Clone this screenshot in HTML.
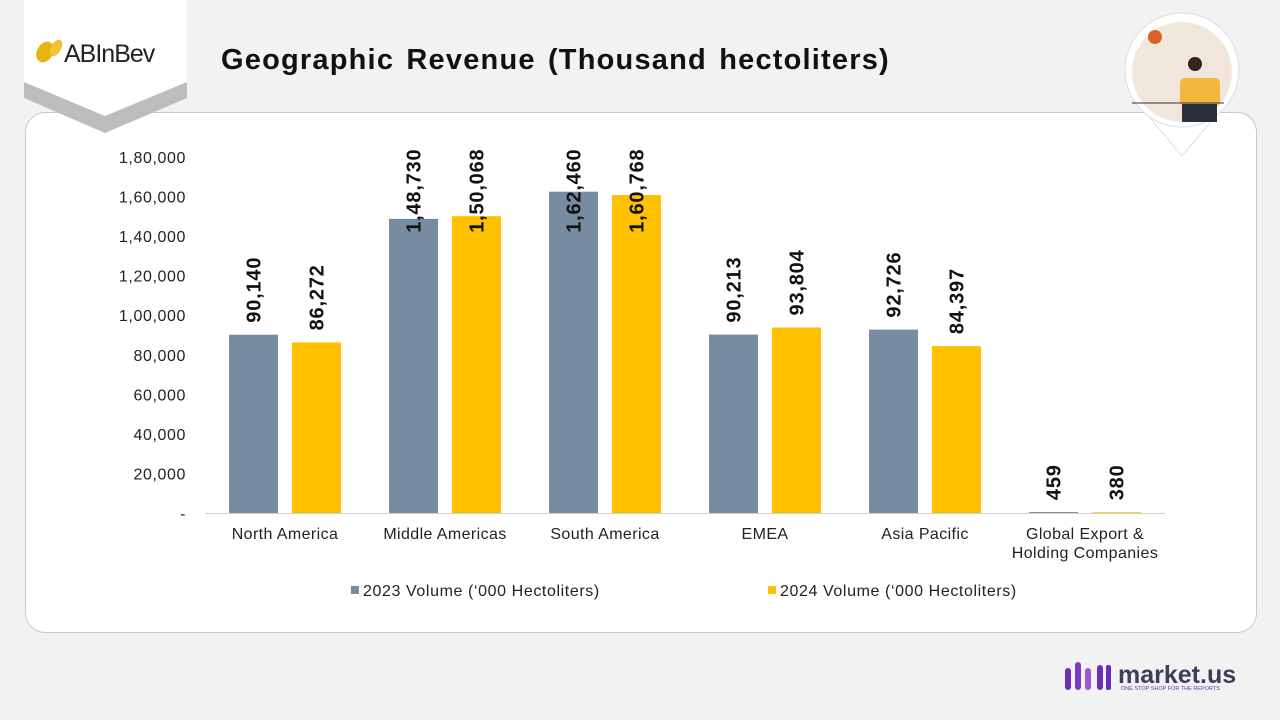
<!DOCTYPE html>
<html><head><meta charset="utf-8">
<style>
body{margin:0;width:1280px;height:720px;background:#f2f2f2;position:relative;overflow:hidden;font-family:"Liberation Sans",sans-serif}
#card{position:absolute;left:25px;top:112px;width:1230px;height:519px;background:#fff;border:1px solid #c8c8c8;border-radius:20px}
#title{position:absolute;left:221px;top:44px;font-size:29px;font-weight:bold;color:#111;letter-spacing:1.2px;word-spacing:3px}
svg{position:absolute;left:0;top:0}
</style></head><body>
<div id="card"></div>
<svg width="1280" height="720">
  <polygon points="24,18 187,18 187,98 105,133 24,98" fill="#bdbdbd"/>
  <polygon points="24,0 187,0 187,82 105,116 24,82" fill="#fff"/>
  <g>
    <ellipse cx="45" cy="52" rx="8" ry="11" fill="#e8b40f" transform="rotate(30 45 52)"/>
    <ellipse cx="56" cy="48" rx="5" ry="9" fill="#f1c232" transform="rotate(30 56 48)"/>
    <text x="64" y="62" font-size="25" fill="#222" letter-spacing="-1">ABInBev</text>
  </g>
  <g>
    <polygon points="1135,100 1229,100 1182,156" fill="#fff" stroke="#ddd"/>
    <circle cx="1182" cy="70" r="57" fill="#fff" stroke="#ddd"/>
    <circle cx="1182" cy="72" r="50" fill="#f1e6db"/>
    <rect x="1180" y="78" width="40" height="28" rx="5" fill="#f3b73d"/>
    <rect x="1182" y="104" width="35" height="18" fill="#2a2f3a"/>
    <circle cx="1195" cy="64" r="7" fill="#3a2416"/>
    <circle cx="1155" cy="37" r="7" fill="#d9622b"/>
    <line x1="1132" y1="103" x2="1224" y2="103" stroke="#333"/>
  </g>
  <g>
    <rect x="1065" y="668" width="6" height="22" rx="3" fill="#6b2fb5"/>
    <rect x="1075" y="662" width="6" height="28" rx="3" fill="#7b3cc5"/>
    <rect x="1085" y="668" width="6" height="22" rx="3" fill="#9b59d6"/>
    <rect x="1097" y="665" width="6" height="25" rx="3" fill="#6b2fb5"/>
    <rect x="1106" y="665" width="5" height="25" rx="2" fill="#6b2fb5"/>
    <text x="1118" y="683" font-size="25" font-weight="bold" fill="#3d3d5c">market.us</text>
    <text x="1121" y="690" font-size="5.5" fill="#6b2fb5">ONE STOP SHOP FOR THE REPORTS</text>
  </g>
</svg>
<div id="title">Geographic Revenue (Thousand hectoliters)</div>
<svg id="chart" width="1280" height="720"></svg>
<script>
const categories=["North America","Middle Americas","South America","EMEA","Asia Pacific","Global Export &\nHolding Companies"];
const vol2023=[90140,148730,162460,90213,92726,459];
const vol2024=[86272,150068,160768,93804,84397,380];
const labels2023=["90,140","1,48,730","1,62,460","90,213","92,726","459"];
const labels2024=["86,272","1,50,068","1,60,768","93,804","84,397","380"];
const yTicks=[0,20000,40000,60000,80000,100000,120000,140000,160000,180000];
const yTickLabels=["-","20,000","40,000","60,000","80,000","1,00,000","1,20,000","1,40,000","1,60,000","1,80,000"];
const seriesNames=["2023 Volume (‘000 Hectoliters)","2024 Volume (‘000 Hectoliters)"];
const colors=["#778ca3","#ffc000"];
const svg=document.getElementById('chart');
const NS="http://www.w3.org/2000/svg";
const y0=513,yTop=157,yMax=180000,xL=205,xR=1165;
const Y=v=>y0-(v/yMax)*(y0-yTop);
const band=(xR-xL)/categories.length;
const XC=i=>xL+band*(i+0.5);
const bw=49,gap=14;
function mk(t,a){const e=document.createElementNS(NS,t);for(const k in a)e.setAttribute(k,a[k]);svg.appendChild(e);return e;}
const ax=mk('line',{x1:xL,x2:xR,y1:y0+0.5,y2:y0+0.5,stroke:'#d0d0d0'});


yTicks.forEach((v,i)=>{
  const t=mk('text',{x:186,y:Y(v)+6,'text-anchor':'end','font-size':16,fill:'#222','letter-spacing':0.6});
  t.textContent=yTickLabels[i];
  
  
});
categories.forEach((c,i)=>{
  const lines=c.split('\n');
  lines.forEach((ln,j)=>{
    const t=mk('text',{x:XC(i),y:539+j*19,'text-anchor':'middle','font-size':16,fill:'#222','letter-spacing':0.4});
    t.textContent=ln;
    
    
  });
  [[vol2023,labels2023,-1],[vol2024,labels2024,1]].forEach(([vals,labs,s],k)=>{
    const x=s<0?XC(i)-gap/2-bw:XC(i)+gap/2;
    const v=vals[i];
    const r=mk('rect',{x:x,y:Y(v),width:bw,height:y0-Y(v),fill:colors[k]});
    
    
    const len=labs[i].length*10.6;
    const bottom=Math.max(Y(v)-12,148+len);
    const cx=x+bw/2+7;
    const t=mk('text',{x:cx,y:bottom,'font-size':20,'font-weight':'bold',fill:'#111','letter-spacing':0.8,transform:`rotate(-90 ${cx} ${bottom})`});
    t.textContent=labs[i];
    
    
  });
});
const lx=[351,768];
seriesNames.forEach((n,k)=>{
  const r=mk('rect',{x:lx[k],y:586,width:8,height:8,fill:colors[k]});
  
  
  const t=mk('text',{x:lx[k]+12,y:596,'font-size':16,fill:'#222','letter-spacing':0.6});
  t.textContent=n;
  
  
});
</script>
</body></html>
